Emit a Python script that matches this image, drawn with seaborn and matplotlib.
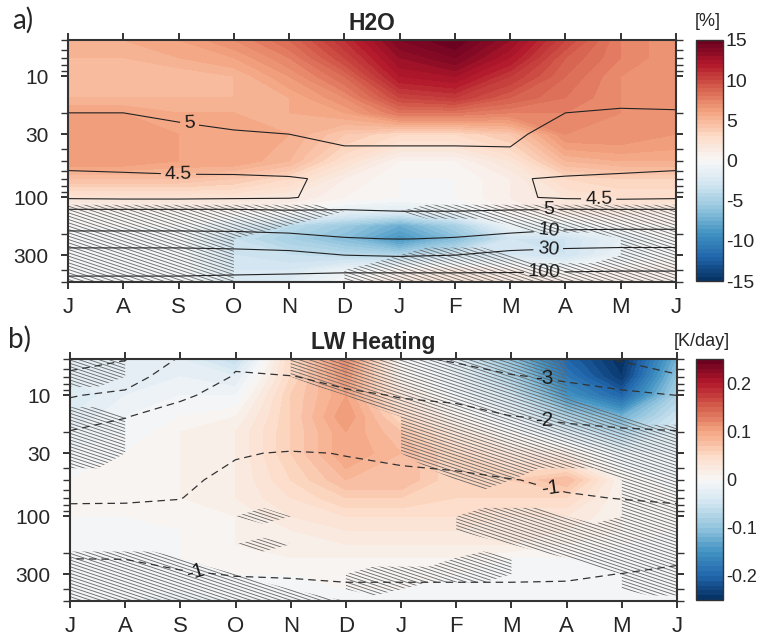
import numpy as np
import matplotlib
matplotlib.use("Agg")
import matplotlib.pyplot as plt
import matplotlib.hatch as mhatch
import matplotlib.ticker as mticker
from matplotlib.path import Path
import seaborn as sns

# ---------------- data ----------------
months = ["J", "A", "S", "O", "N", "D", "J", "F", "M", "A", "M", "J"]
plev = [5, 7, 10, 15, 20, 30, 50, 70, 100, 130, 170, 220, 300, 400, 500]

# H2O anomaly [%]  (rows: plev, cols: months)
h2o_anom = [
    [5.5, 5.5, 6.0, 7.0, 8.5, 11.0, 14.0, 15.0, 13.0, 10.0, 7.5, 6.5],
    [5.0, 5.0, 5.5, 6.0, 7.5, 10.0, 13.0, 14.0, 12.0, 9.0, 7.5, 6.5],
    [5.0, 5.0, 4.5, 5.0, 6.5, 8.5, 12.0, 12.5, 10.5, 8.5, 7.0, 6.5],
    [5.0, 5.0, 5.0, 5.0, 5.5, 7.0, 10.0, 10.5, 9.0, 8.0, 7.0, 6.5],
    [6.0, 6.0, 5.5, 5.5, 5.5, 6.0, 8.0, 8.0, 7.5, 7.5, 7.0, 6.5],
    [6.5, 6.5, 6.0, 6.0, 5.5, 4.0, 3.0, 3.0, 4.0, 7.0, 7.0, 6.5],
    [6.5, 6.5, 6.0, 6.0, 5.0, 2.5, 0.5, 0.5, 2.0, 5.0, 5.5, 5.5],
    [4.5, 4.5, 4.5, 4.0, 3.0, 1.0, 0.0, 0.0, 1.0, 3.0, 3.5, 3.5],
    [2.0, 2.0, 2.0, 2.0, 1.5, 0.5, 0.0, 0.0, 1.0, 2.0, 2.5, 2.5],
    [0.5, 0.5, 0.5, 0.5, 0.0, -1.5, -2.0, -1.0, 0.5, 1.5, 1.5, 1.0],
    [0.0, 0.0, 0.0, -2.0, -4.0, -5.5, -7.5, -5.0, -1.0, -1.0, 0.0, 0.5],
    [0.0, 0.0, 0.0, -3.5, -5.0, -6.5, -9.0, -6.5, -3.0, -3.0, -1.5, 0.0],
    [0.0, 0.0, 0.0, -3.0, -3.5, -4.0, -4.5, -3.0, -2.5, -3.0, -1.0, 0.0],
    [0.0, 0.0, 0.0, -2.5, -2.5, -1.0, 0.5, 1.5, 1.0, 0.0, 0.5, 1.0],
    [0.0, 0.0, 0.0, -2.0, -2.0, 0.0, 1.5, 2.0, 1.5, 1.0, 1.0, 1.0],
]

# H2O climatology [ppmv] (contour lines)
h2o_clim = [
    [5.8, 5.8, 5.8, 5.8, 5.9, 6.0, 6.0, 6.0, 6.0, 5.7, 5.6, 5.7],
    [5.5, 5.5, 5.5, 5.5, 5.6, 5.7, 5.7, 5.7, 5.7, 5.4, 5.35, 5.45],
    [5.3, 5.3, 5.3, 5.35, 5.4, 5.5, 5.5, 5.5, 5.5, 5.25, 5.2, 5.25],
    [5.1, 5.1, 5.15, 5.2, 5.25, 5.3, 5.3, 5.3, 5.3, 5.1, 5.1, 5.1],
    [5.0, 5.0, 5.05, 5.1, 5.15, 5.2, 5.2, 5.2, 5.2, 5.0, 4.95, 4.97],
    [4.85, 4.88, 4.92, 4.97, 5.0, 5.06, 5.06, 5.06, 5.07, 4.85, 4.8, 4.82],
    [4.6, 4.65, 4.7, 4.72, 4.8, 4.9, 4.9, 4.9, 4.9, 4.65, 4.6, 4.6],
    [4.4, 4.4, 4.42, 4.42, 4.45, 4.6, 4.62, 4.62, 4.52, 4.47, 4.45, 4.4],
    [4.45, 4.43, 4.43, 4.45, 4.47, 4.65, 4.7, 4.7, 4.55, 4.45, 4.42, 4.45],
    [5.1, 5.1, 5.1, 5.1, 5.05, 5.05, 5.0, 5.0, 5.05, 5.1, 5.1, 5.1],
    [7.5, 7.5, 7.5, 7.5, 7.0, 6.5, 6.3, 6.5, 7.0, 7.8, 8.0, 8.0],
    [14.0, 14.0, 14.0, 13.5, 12.5, 10.5, 9.8, 10.5, 12.5, 15.0, 15.5, 15.5],
    [45.0, 45.0, 45.0, 42.0, 38.0, 30.0, 26.0, 30.0, 38.0, 42.0, 45.0, 45.0],
    [65.0, 65.0, 65.0, 70.0, 75.0, 80.0, 80.0, 80.0, 85.0, 90.0, 95.0, 95.0],
    [140.0, 140.0, 140.0, 150.0, 160.0, 180.0, 180.0, 180.0, 170.0, 170.0, 175.0, 175.0],
]

# non-significant H2O cells (rows: plev, cols: month intervals J-A ... M-J)
h2o_insig = [
    [0, 0, 0, 0, 0, 0, 0, 0, 0, 0, 0],
    [0, 0, 0, 0, 0, 0, 0, 0, 0, 0, 0],
    [0, 0, 0, 0, 0, 0, 0, 0, 0, 0, 0],
    [0, 0, 0, 0, 0, 0, 0, 0, 0, 0, 0],
    [0, 0, 0, 0, 0, 0, 0, 0, 0, 0, 0],
    [0, 0, 0, 0, 0, 0, 0, 0, 0, 0, 0],
    [0, 0, 0, 0, 0, 0, 0, 0, 0, 0, 0],
    [0, 0, 0, 0, 0, 0, 0, 0, 0, 0, 0],
    [0, 0, 0, 0, 0, 0, 0, 0, 0, 0, 0],
    [1, 1, 1, 1, 1, 0, 1, 1, 1, 1, 1],
    [1, 1, 1, 1, 0, 0, 0, 0, 1, 1, 1],
    [1, 1, 1, 0, 0, 0, 0, 0, 0, 0, 1],
    [1, 1, 1, 0, 0, 0, 1, 1, 0, 0, 1],
    [1, 1, 1, 0, 0, 1, 1, 1, 1, 1, 1],
    [1, 1, 1, 0, 0, 1, 1, 1, 1, 1, 1],
]

# LW heating anomaly [K/day]
lw_anom = [
    [-0.03, -0.02, -0.03, -0.06, 0.05, 0.12, 0.00, -0.03, -0.10, -0.20, -0.25, -0.12],
    [-0.03, -0.02, -0.02, -0.03, 0.05, 0.11, 0.01, -0.02, -0.08, -0.18, -0.24, -0.10],
    [-0.04, -0.02, -0.01, -0.01, 0.06, 0.10, 0.03, -0.01, -0.05, -0.15, -0.20, -0.08],
    [-0.03, -0.01, 0.00, 0.01, 0.06, 0.11, 0.05, 0.01, -0.02, -0.08, -0.12, -0.05],
    [-0.02, -0.01, 0.01, 0.02, 0.06, 0.10, 0.07, 0.03, 0.00, -0.04, -0.08, -0.04],
    [-0.01, 0.00, 0.01, 0.02, 0.06, 0.10, 0.08, 0.05, 0.03, 0.02, -0.02, -0.02],
    [0.00, 0.01, 0.01, 0.02, 0.05, 0.08, 0.08, 0.05, 0.06, 0.08, 0.01, -0.01],
    [0.01, 0.01, 0.01, 0.02, 0.04, 0.06, 0.06, 0.05, 0.05, 0.05, 0.01, 0.00],
    [0.00, 0.00, 0.01, 0.01, 0.03, 0.04, 0.04, 0.04, 0.03, 0.03, 0.01, 0.00],
    [0.00, 0.00, 0.00, 0.01, 0.02, 0.03, 0.03, 0.03, 0.03, 0.02, 0.01, 0.00],
    [-0.01, 0.00, 0.00, 0.01, 0.02, 0.02, 0.02, 0.02, 0.02, 0.01, 0.00, -0.01],
    [-0.01, -0.01, 0.00, 0.01, 0.01, 0.01, 0.01, 0.01, 0.00, 0.00, -0.01, -0.01],
    [-0.01, -0.01, -0.01, 0.00, 0.00, 0.01, 0.01, 0.00, -0.01, -0.01, -0.01, -0.01],
    [-0.01, -0.01, -0.01, -0.01, 0.00, 0.00, 0.00, 0.00, -0.01, -0.01, -0.01, -0.01],
    [-0.01, -0.01, -0.02, -0.01, -0.01, -0.01, 0.00, -0.01, -0.01, -0.01, -0.01, -0.01],
]

# LW heating climatology [K/day] (contour lines)
lw_clim = [
    [-4.5, -4.05, -2.9, -2.1, -2.3, -2.6, -2.85, -3.1, -3.3, -3.8, -4.1, -4.5],
    [-3.7, -3.4, -2.5, -1.95, -1.98, -2.15, -2.45, -2.6, -2.95, -3.1, -3.3, -3.9],
    [-3.05, -2.8, -2.08, -1.8, -1.85, -1.9, -2.03, -2.1, -2.5, -2.7, -2.85, -3.0],
    [-2.5, -2.02, -1.75, -1.6, -1.6, -1.7, -1.75, -1.8, -1.98, -2.1, -2.25, -2.4],
    [-1.95, -1.8, -1.55, -1.4, -1.4, -1.45, -1.5, -1.55, -1.7, -1.85, -1.9, -1.96],
    [-1.7, -1.6, -1.35, -1.05, -0.95, -1.02, -1.1, -1.15, -1.35, -1.5, -1.6, -1.65],
    [-1.35, -1.3, -1.15, -0.8, -0.75, -0.8, -0.85, -0.9, -0.98, -1.1, -1.2, -1.3],
    [-1.08, -1.07, -1.02, -0.65, -0.6, -0.65, -0.65, -0.7, -0.75, -0.95, -1.02, -1.08],
    [-0.8, -0.8, -0.75, -0.55, -0.55, -0.55, -0.55, -0.6, -0.6, -0.7, -0.75, -0.8],
    [-0.6, -0.6, -0.6, -0.5, -0.5, -0.5, -0.5, -0.5, -0.5, -0.55, -0.6, -0.65],
    [-0.6, -0.6, -0.55, -0.5, -0.5, -0.5, -0.5, -0.5, -0.5, -0.5, -0.55, -0.6],
    [-0.98, -0.97, -0.75, -0.6, -0.6, -0.6, -0.55, -0.55, -0.55, -0.5, -0.6, -0.85],
    [-1.4, -1.35, -1.1, -0.95, -0.9, -0.9, -0.9, -0.9, -0.9, -0.85, -1.02, -1.2],
    [-1.7, -1.65, -1.5, -1.35, -1.3, -1.1, -1.1, -1.1, -1.1, -1.2, -1.3, -1.45],
    [-1.95, -1.9, -1.85, -1.7, -1.65, -1.5, -1.5, -1.5, -1.5, -1.6, -1.7, -1.8],
]

# non-significant LW heating cells (rows: plev, cols: month intervals)
lw_insig = [
    [1, 0, 0, 0, 1, 1, 1, 1, 1, 0, 0],
    [1, 0, 0, 0, 1, 1, 1, 1, 1, 0, 0],
    [0, 0, 0, 0, 0, 1, 1, 1, 1, 0, 0],
    [1, 0, 0, 0, 0, 0, 1, 1, 1, 1, 0],
    [1, 0, 0, 0, 0, 0, 1, 1, 1, 1, 1],
    [1, 0, 0, 0, 0, 0, 1, 1, 1, 1, 1],
    [0, 0, 0, 0, 0, 0, 0, 1, 0, 0, 1],
    [0, 0, 0, 0, 0, 0, 0, 0, 0, 0, 1],
    [0, 0, 0, 1, 0, 0, 0, 1, 1, 0, 1],
    [0, 0, 0, 0, 0, 0, 0, 1, 1, 1, 1],
    [0, 0, 0, 1, 0, 0, 0, 0, 1, 1, 1],
    [1, 1, 0, 0, 0, 0, 0, 1, 0, 1, 1],
    [1, 1, 1, 0, 0, 1, 1, 1, 0, 0, 1],
    [1, 1, 1, 1, 0, 1, 0, 0, 0, 0, 1],
    [1, 1, 1, 1, 1, 0, 0, 0, 0, 0, 0],
]

h2o_levels = [4.5, 5, 10, 30, 100]
lw_levels = [-4, -3, -2, -1]

# label anchor points (month index, hPa)
h2o_label_pos = [(2.2, 24), (2.0, 59), (8.7, 127), (9.6, 112), (8.7, 193), (8.7, 282), (8.6, 376)]
lw_label_pos = [(8.6, 7.7), (8.6, 16.6), (8.7, 59), (2.3, 277)]

# ---------------- custom shallow diagonal hatch ----------------
class ShallowHatch(mhatch.HatchPatternBase):
    def __init__(self, hatch, density):
        self.n = int(hatch.count('\\') * density)
        if self.n:
            self.offs = np.arange(-3, int(self.n * 4 / 3) + 4) / self.n
            self.num_vertices = 2 * len(self.offs)
        else:
            self.num_vertices = 0

    def set_vertices_and_codes(self, vertices, codes):
        c = self.offs
        vertices[0::2, 0] = -0.1
        vertices[0::2, 1] = c + 0.1 / 3
        vertices[1::2, 0] = 1.1
        vertices[1::2, 1] = c - 1.1 / 3
        codes[0::2] = Path.MOVETO
        codes[1::2] = Path.LINETO


mhatch._hatch_types = [ShallowHatch if t is mhatch.SouthEastHatch else t
                       for t in mhatch._hatch_types]

# ---------------- style ----------------
sns.set_theme(style="ticks")
plt.rcParams['font.family'] = ['Liberation Sans', 'DejaVu Sans']
plt.rcParams['axes.unicode_minus'] = False
plt.rcParams['hatch.color'] = '#666666'
plt.rcParams['hatch.linewidth'] = 0.6

cmap = sns.color_palette("RdBu_r", as_cmap=True)
HATCH = '\\' * 5
HATCH_COLOR = '#666666'

fig = plt.figure(figsize=(7.59, 6.41), dpi=100)
W, H = 759, 641


def px_axes(l, t, r, b):
    return fig.add_axes([l / W, 1 - b / H, (r - l) / W, (b - t) / H])


ax1 = px_axes(68, 40, 676, 282)
ax2 = px_axes(70, 359, 677, 601)
cax1 = px_axes(696, 40, 723, 281)
cax2 = px_axes(696, 359, 723, 600)

xm = np.arange(len(months))
xi = np.concatenate([[0], np.arange(len(months) - 1) + 0.5, [len(months) - 1]])


def expand(mask):
    m = np.asarray(mask, float)
    return np.hstack([m[:, :1], m, m[:, -1:]])


def add_hatch(ax, mask):
    hs = ax.contourf(xi, plev, expand(mask), levels=[0.5, 1.5], colors='none', hatches=[HATCH])
    hs.set_edgecolor(HATCH_COLOR)
    hs.set_linewidth(0)
    return hs


def style_axes(ax):
    ax.set_yscale('log')
    ax.set_ylim(500, 5)
    ax.set_xlim(0, len(months) - 1)
    ax.set_xticks(xm)
    ax.set_xticklabels(months)
    ax.yaxis.set_major_locator(mticker.FixedLocator([10, 30, 100, 300]))
    ax.yaxis.set_major_formatter(mticker.FuncFormatter(lambda v, p: f"{v:g}"))
    ax.yaxis.set_minor_locator(mticker.FixedLocator(
        [5, 6, 7, 8, 9, 20, 40, 50, 60, 70, 80, 90, 200, 400, 500]))
    ax.yaxis.set_minor_formatter(mticker.NullFormatter())
    ax.tick_params(axis='both', which='both', direction='out', top=True, right=True,
                   labeltop=False, labelright=False, color='#333333')
    ax.tick_params(axis='both', which='major', length=5, width=1.4)
    ax.tick_params(axis='y', which='minor', length=5, width=1.0)
    ax.tick_params(axis='y', which='major', labelsize=15, pad=9)
    ax.tick_params(axis='x', which='major', labelsize=16, pad=6)
    for s in ax.spines.values():
        s.set_linewidth(1.5)
        s.set_color('#333333')
        s.set_visible(True)


# ---- panel a ----
cf1 = ax1.contourf(xm, plev, np.array(h2o_anom), levels=np.linspace(-15, 15, 61), cmap=cmap)
add_hatch(ax1, h2o_insig)
cs1 = ax1.contour(xm, plev, np.array(h2o_clim), levels=h2o_levels, colors='#222222', linewidths=0.8)
ax1.clabel(cs1, fmt=lambda v: f"{v:g}", manual=h2o_label_pos, fontsize=14, inline=True,
           inline_spacing=4, colors='k')
style_axes(ax1)
ax1.set_title("H2O", fontweight='bold', fontsize=16.5, pad=7)

cb1 = fig.colorbar(cf1, cax=cax1, ticks=[-15, -10, -5, 0, 5, 10, 15])
cb1.ax.tick_params(labelsize=14, length=0, pad=2)
cb1.ax.set_yticklabels(["-15", "-10", "-5", "0", "5", "10", "15"])
cb1.outline.set_linewidth(1.0)
cb1.outline.set_edgecolor('#333333')
fig.text(708 / W, 1 - 22 / H, "[%]", fontsize=13, ha='center', va='center')

# ---- panel b ----
cf2 = ax2.contourf(xm, plev, np.array(lw_anom), levels=np.linspace(-0.25, 0.25, 51), cmap=cmap)
add_hatch(ax2, lw_insig)
cs2 = ax2.contour(xm, plev, np.array(lw_clim), levels=lw_levels, colors='#333333',
                  linewidths=0.9, linestyles=[(0, (6, 4))])
ax2.clabel(cs2, fmt=lambda v: f"{v:g}", manual=lw_label_pos, fontsize=15, inline=True,
           inline_spacing=4, colors='k')
style_axes(ax2)
ax2.set_title("LW Heating", fontweight='bold', fontsize=16.5, pad=7)

cb2 = fig.colorbar(cf2, cax=cax2, ticks=[-0.2, -0.1, 0, 0.1, 0.2])
cb2.ax.tick_params(labelsize=13, length=0, pad=2)
cb2.ax.set_yticklabels(["-0.2", "-0.1", "0", "0.1", "0.2"])
cb2.outline.set_linewidth(1.0)
cb2.outline.set_edgecolor('#333333')
fig.text(702 / W, 1 - 342 / H, "[K/day]", fontsize=13, ha='center', va='center')

# panel letters
fig.text(12 / W, 1 - 29 / H, "a)", fontsize=20, family=['Lato', 'DejaVu Sans'], va='baseline')
fig.text(8 / W, 1 - 348 / H, "b)", fontsize=20, family=['Lato', 'DejaVu Sans'], va='baseline')

fig.savefig("out.png", dpi=100)
